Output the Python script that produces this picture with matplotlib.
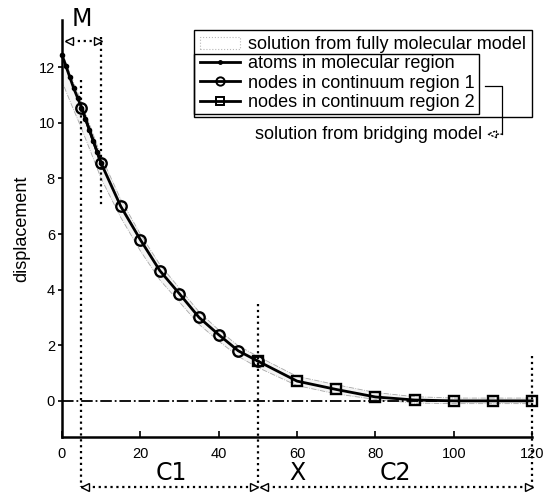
import matplotlib
matplotlib.use("Agg")
import matplotlib.pyplot as plt
from matplotlib.lines import Line2D
from matplotlib.patches import Patch, Rectangle

plt.rcParams['font.family'] = ['Liberation Sans', 'DejaVu Sans']

# atoms in molecular region
atom_x = [0, 1, 2, 3, 4, 5, 6, 7, 8, 9, 10]
atom_y = [12.45, 12.05, 11.65, 11.25, 10.9, 10.55, 10.15, 9.75, 9.35, 8.95, 8.55]

# nodes in continuum region 1
c1_x = [5, 10, 15, 20, 25, 30, 35, 40, 45, 50]
c1_y = [10.55, 8.55, 7.0, 5.8, 4.68, 3.85, 3.0, 2.38, 1.8, 1.43]

# nodes in continuum region 2
c2_x = [50, 60, 70, 80, 90, 100, 110, 120]
c2_y = [1.43, 0.71, 0.41, 0.14, 0.03, 0.0, 0.0, 0.0]

# fully molecular solution (drawn as a faint band)
mol_x = [0, 2, 5, 10, 15, 20, 25, 30, 35, 40, 45, 50, 60, 70, 80, 90, 100, 110, 120]
mol_lo = [11.5, 10.8, 9.8, 8.0, 6.6, 5.4, 4.35, 3.55, 2.75, 2.15, 1.6, 1.2,
          0.55, 0.25, 0.05, -0.08, -0.1, -0.1, -0.1]
mol_hi = [12.55, 11.8, 10.75, 8.8, 7.25, 6.0, 4.9, 4.05, 3.2, 2.55, 1.98, 1.6,
          0.88, 0.58, 0.3, 0.15, 0.1, 0.1, 0.1]

region_bounds = [5, 10, 50, 120]
labels = ["solution from fully molecular model",
          "atoms in molecular region",
          "nodes in continuum region 1",
          "nodes in continuum region 2"]

fig = plt.figure(figsize=(5.43, 4.93), dpi=100)
ax = fig.add_axes([0.114, 0.1136, 0.866, 0.846])

ax.fill_between(mol_x, mol_lo, mol_hi, facecolor='#f4f4f4',
                edgecolor='#a8a8a8', lw=0.6, linestyle='-.', zorder=1)

ax.axhline(0, color='k', lw=1.3, ls='-.', zorder=2)

ax.plot(atom_x, atom_y, 'k-', marker='o', ms=3, lw=2, zorder=4, clip_on=False)
ax.plot(c1_x, c1_y, 'k-', marker='o', ms=7.5, mfc='none', mew=1.7, lw=2,
        zorder=4, clip_on=False)
ax.plot(c2_x, c2_y, 'k-', marker='s', ms=7.5, mfc='none', mew=1.7, lw=2,
        zorder=4, clip_on=False)

ax.set_xlim(0, 120)
ax.set_ylim(-1.3, 13.7)
ax.set_xticks([0, 20, 40, 60, 80, 100, 120])
ax.set_yticks([0, 2, 4, 6, 8, 10, 12])
ax.tick_params(axis='x', direction='in', length=4, width=1.2, pad=7, labelsize=10.5)
ax.tick_params(axis='y', direction='out', length=3, width=1.2, pad=2, labelsize=10.5)
for s in ['top', 'right']:
    ax.spines[s].set_visible(False)
for s in ['left', 'bottom']:
    ax.spines[s].set_linewidth(1.8)

ax.set_ylabel('displacement', fontsize=13)
ax.yaxis.set_label_coords(-0.068, 0.5)

# region guide lines
dot = dict(color='k', ls=':', lw=1.6, clip_on=False, zorder=3)
ax.plot([region_bounds[0]] * 2, [11.55, -3.1], **dot)
ax.plot([region_bounds[1]] * 2, [13.1, 7.0], **dot)
ax.plot([region_bounds[2]] * 2, [3.5, -3.1], **dot)
ax.plot([region_bounds[3]] * 2, [1.6, -3.1], **dot)

def span_arrow(x0, x1, y):
    ax.plot([x0, x1], [y, y], color='k', ls=':', lw=1.6, clip_on=False)
    ax.plot([x0 + 0.9], [y], marker='<', ms=6, mfc='white', mec='k',
            mew=1, clip_on=False, zorder=5)
    ax.plot([x1 - 0.9], [y], marker='>', ms=6, mfc='white', mec='k',
            mew=1, clip_on=False, zorder=5)

span_arrow(1, 10, 12.95)
span_arrow(5, 50, -3.1)
span_arrow(50.8, 120, -3.1)

ax.text(5.2, 13.75, 'M', fontsize=17, ha='center', va='center',
        family='DejaVu Sans', clip_on=False)
ax.text(27.8, -2.6, 'C1', fontsize=17, ha='center', va='center',
        family='DejaVu Sans', clip_on=False)
ax.text(60, -2.6, 'X', fontsize=17, ha='center', va='center',
        family='DejaVu Sans', clip_on=False)
ax.text(85, -2.6, 'C2', fontsize=17, ha='center', va='center',
        family='DejaVu Sans', clip_on=False)

# legend
handles = [Patch(facecolor='white', edgecolor='#b8b8b8', linestyle=':', lw=0.8),
           Line2D([], [], color='k', lw=2, marker='o', ms=2.5),
           Line2D([], [], color='k', lw=2, marker='o', ms=6, mfc='none', mew=1.4),
           Line2D([], [], color='k', lw=2, marker='s', ms=6, mfc='none', mew=1.4)]
leg = ax.legend(handles, labels, loc='upper right',
                bbox_to_anchor=(532 / 543, 1 - 30 / 493),
                bbox_transform=fig.transFigure, borderaxespad=0,
                fontsize=13, handlelength=2.2, handletextpad=0.45,
                labelspacing=0.12, borderpad=0.35, fancybox=False,
                framealpha=1, edgecolor='k')
leg.get_frame().set_linewidth(1.0)

fig.canvas.draw()
r = fig.canvas.get_renderer()
fr = leg.get_frame().get_window_extent(r)
tb = [t.get_window_extent(r) for t in leg.get_texts()]
inner_top = (tb[0].y0 + tb[1].y1) / 2
inner_right = max(t.x1 for t in tb[1:]) + 5
inner_bot = fr.y0 + 3
fig.patches.append(Rectangle((fr.x0, inner_bot), inner_right - fr.x0,
                             inner_top - inner_bot, transform=None,
                             fill=False, ec='k', lw=1.0, zorder=10))

row_y = (tb[2].y0 + tb[2].y1) / 2 - 3
txt_y = fr.y0 - 17
bx = inner_right + 23
fig.lines.append(Line2D([inner_right + 6, bx, bx], [row_y, row_y, txt_y],
                        transform=None, color='k', lw=0.9))
fig.text(inner_right + 3, txt_y, 'solution from bridging model', fontsize=13,
         ha='right', va='center', transform=None)
ax.annotate('', xy=(inner_right + 7, txt_y), xytext=(bx, txt_y),
            xycoords='figure pixels', textcoords='figure pixels',
            arrowprops=dict(arrowstyle='-|>,head_length=0.6,head_width=0.25',
                            ls=':', lw=1.0, fc='white', ec='k',
                            shrinkA=0, shrinkB=0))

fig.savefig('out.png', dpi=100)
